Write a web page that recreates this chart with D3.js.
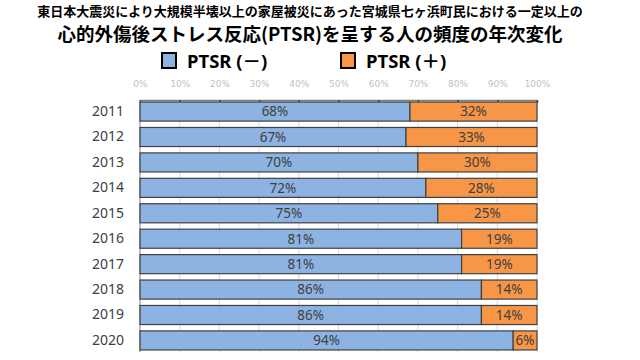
<!DOCTYPE html>
<html>
<head>
<meta charset="utf-8">
<script src="https://cdn.jsdelivr.net/npm/d3@7"></script>
<style>
  body { margin: 0; background: #fff; }
  svg { display: block; font-family: "Noto Sans CJK JP", "Noto Sans", sans-serif; }
</style>
</head>
<body>
<div class="chart"></div>
<script>
// data
const years = ['2011', '2012', '2013', '2014', '2015', '2016', '2017', '2018', '2019', '2020'];
const ptsrNeg = [68, 67, 70, 72, 75, 81, 81, 86, 86, 94];
const ptsrPos = [32, 33, 30, 28, 25, 19, 19, 14, 14, 6];
const tickValues = [0, 10, 20, 30, 40, 50, 60, 70, 80, 90, 100];
const seriesNames = ['PTSR (－)', 'PTSR (＋)'];
const colors = ['#8db3e2', '#f79646'];
const titleLines = [
    '東日本大震災により大規模半壊以上の家屋被災にあった宮城県七ヶ浜町民における一定以上の',
    '心的外傷後ストレス反応(PTSR)を呈する人の頻度の年次変化'
];

const svg_width = 640;
const svg_height = 360;
const plot = { left: 140, right: 537, top: 100, bottom: 352 };

const svg = d3.select('.chart').append('svg')
    .attr('width', svg_width).attr('height', svg_height);

// title
svg.append('text').attr('x', 310).attr('y', 15.5)
    .attr('text-anchor', 'middle')
    .style('font-size', '13px').style('font-weight', 'bold').style('fill', '#000')
    .text(titleLines[0]);
svg.append('text').attr('x', 310).attr('y', 40.5)
    .attr('text-anchor', 'middle')
    .style('font-size', '18.5px').style('font-weight', 'bold').style('fill', '#000')
    .text(titleLines[1]);

// legend
const legendX = [162, 341];
seriesNames.forEach((name, i) => {
    const g = svg.append('g').attr('transform', `translate(${legendX[i]},53)`);
    g.append('rect').attr('width', 14).attr('height', 15)
        .style('fill', colors[i]).style('stroke', '#000').style('stroke-width', 2);
    g.append('text').attr('x', 25).attr('y', 14.5)
        .style('font-size', '18.5px').style('font-weight', 'bold').style('fill', '#000')
        .style('font-family', '"Noto Sans", "Noto Sans CJK JP", sans-serif')
        .text(name);
});

// scales
const xScale = d3.scaleLinear().domain([0, 100]).range([plot.left, plot.right]);
const yScale = d3.scaleBand().domain(years).range([plot.top, plot.bottom])
    .paddingInner(0.25).paddingOuter(0.08);

// grid
svg.append('g').selectAll('line').data(tickValues.slice(1)).enter()
    .append('line')
    .attr('x1', d => xScale(d)).attr('x2', d => xScale(d))
    .attr('y1', plot.top).attr('y2', plot.bottom)
    .style('stroke', '#d9d9d9').style('stroke-width', 1);

// top axis
const xAxis = d3.axisTop(xScale).tickValues(tickValues).tickFormat(d => d + '%')
    .tickSizeInner(-3).tickSizeOuter(0).tickPadding(13);
const xAxisDraw = svg.append('g').attr('class', 'x axis')
    .attr('transform', `translate(0,${plot.top})`)
    .call(xAxis);
xAxisDraw.select('.domain').style('stroke', '#7f7f7f').style('stroke-width', 1.5);
xAxisDraw.selectAll('.tick line').style('stroke', '#404040').style('stroke-width', 1.5);
xAxisDraw.selectAll('text').style('font-size', '9px').style('fill', '#bfbfbf')
    .style('font-family', '"DejaVu Sans", sans-serif');

// left axis
const yAxis = d3.axisLeft(yScale).tickSize(0).tickPadding(16);
const yAxisDraw = svg.append('g').attr('class', 'y axis')
    .attr('transform', `translate(${plot.left},0)`)
    .call(yAxis);
yAxisDraw.select('.domain').attr('d', `M0,${plot.top}V${plot.bottom}`)
    .style('stroke', '#7f7f7f').style('stroke-width', 1);
yAxisDraw.selectAll('text').style('font-size', '14px').style('fill', '#404040')
    .style('font-family', '"Noto Sans", sans-serif');

// stacked bars
const rows = years.map((y, i) => ({ year: y, neg: ptsrNeg[i], pos: ptsrPos[i] }));
const stack = d3.stack().keys(['neg', 'pos'])(rows);

const layers = svg.append('g').selectAll('g').data(stack).enter()
    .append('g').style('fill', (d, i) => colors[i]);

layers.selectAll('rect').data(d => d).enter()
    .append('rect')
    .attr('x', d => xScale(d[0]))
    .attr('y', d => yScale(d.data.year))
    .attr('width', d => xScale(d[1]) - xScale(d[0]))
    .attr('height', yScale.bandwidth())
    .style('stroke', '#404040').style('stroke-width', 1.2);

layers.selectAll('text').data(d => d).enter()
    .append('text')
    .attr('x', d => (xScale(d[0]) + xScale(d[1])) / 2)
    .attr('y', d => yScale(d.data.year) + yScale.bandwidth() / 2)
    .attr('dy', '0.36em')
    .attr('text-anchor', 'middle')
    .style('font-size', '13.5px').style('fill', '#404040')
    .style('font-family', '"Noto Sans", sans-serif')
    .text(d => (d[1] - d[0]) + '%');
</script>
</body>
</html>
